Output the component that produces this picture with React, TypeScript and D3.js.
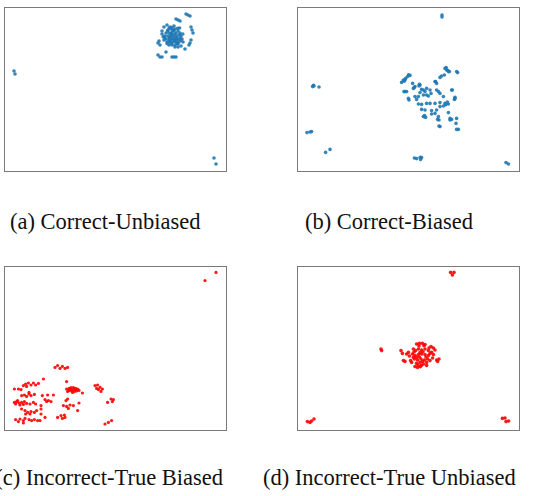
import * as d3 from "d3";

// embedding coordinates (x right, y up)
const pointsA: [number, number][] = [
  [82, 71], [83.5, 71.5], [85.5, 71.5], [87, 70.5], [81, 69.5], [82.5, 69.5], [84, 70], [86, 69.5], [88, 69.5],
  [80.5, 68], [82, 68], [83.5, 68], [85, 68], [86.5, 68], [88.5, 68], [81, 66.5], [82.5, 66.5], [84, 66.5],
  [85.5, 66.5], [87, 66.5], [89, 66.5], [81.5, 65], [83, 65], [84.5, 65], [86, 65], [87.5, 65], [82.5, 63.5],
  [84, 63.5], [85.5, 63.5], [87, 64], [83, 72.5], [85, 73], [80, 66], [89.5, 65], [83.5, 69], [85.5, 69],
  [84.5, 67], [82.5, 65.5], [86.5, 66], [88, 67], [84, 68.8], [86.2, 67.2], [82.8, 67.4], [85, 70.6],
  [81.8, 70.6], [84.6, 71], [86.8, 71.8], [80.2, 67.2], [87.6, 68.6], [83.2, 66], [85.2, 65.6], [86.6, 64.2],
  [81.6, 64.2], [83.6, 64.4], [88.4, 65.8], [84, 72.2], [82.6, 72], [87.8, 72], [89.4, 69], [79.6, 67.6],
  [91, 79], [92, 78.5], [93, 78], [86, 76.5], [87, 76], [88, 75.5], [80, 72.5], [81.5, 73.5], [79, 70.5],
  [79, 69], [93.5, 72.5], [94, 71], [94.5, 69.5], [93.5, 66], [93, 64.5], [92.5, 63.5], [77.5, 65.5],
  [77, 64.5], [78, 63.5], [85.5, 62.5], [87, 62.5], [88.5, 63], [90.5, 61.5], [81, 60], [77, 58.5],
  [78, 57.5], [79, 57.5], [84, 57.5], [85, 57.5], [86, 57.5],
  [5, 50.5], [5.5, 49], [105, 7], [106, 4],
];

const pointsB: [number, number][] = [
  [72.5, 78.5], [72.5, 77.5],
  [8.5, 43], [7.8, 42.7], [11, 42.5], [8.2, 43.4], [5, 19.7], [6.5, 20], [7.3, 20.2], [14.3, 9.8], [16.5, 11.3],
  [58.7, 7], [59.8, 6.7], [61.8, 6.3], [62.3, 7.2], [61.6, 7.4], [104.5, 4.7], [105.7, 4],
  [53.2, 46], [54.3, 46.8], [55.3, 47.7], [56.5, 48.3], [52.3, 44.8], [54, 46], [55.8, 48.6], [53.6, 45.4],
  [74, 51.8], [74.8, 51], [75.7, 50.2], [76.2, 50.2], [74.6, 52.2], [75.4, 50.8], [79.8, 50.2], [80.3, 49.7],
  [72.3, 48], [71.5, 47.3], [73.7, 48.5], [69, 45.2], [69.8, 44.3], [69.3, 45.2],
  [58.2, 41.8], [59, 42.7], [57.8, 44.3], [61.5, 43.5], [61, 43], [54, 40.2], [54.8, 40.2], [53.5, 40.2],
  [62.3, 41.3], [64.8, 41.8], [66.5, 41], [67, 39.3], [65.7, 38], [63.2, 38.5], [61.5, 39.7], [64, 40.2],
  [63.2, 41], [64.8, 38.5], [60.7, 37.7], [58.6, 42.2], [61.2, 43.9],
  [69.8, 41], [70.7, 40.2], [71.5, 39.3], [77.3, 41], [77.7, 41],
  [55.7, 36.8], [56, 36], [59, 37.7], [59.8, 36.3], [73.2, 37.7], [79, 37.3], [78.7, 36.3], [79, 36.8],
  [60.7, 34], [62.3, 33.8], [64.8, 34.3], [66.5, 34.3], [69, 34.3], [71.5, 34.7], [74, 34.3], [75.7, 34],
  [74.4, 33.6], [75.2, 35],
  [62.3, 31.3], [64, 31], [67.3, 30.7], [69.8, 31], [71.5, 32.7], [73.2, 33],
  [63.2, 27.7], [64.3, 27.3], [63.8, 28.2], [67.3, 29], [69, 29.3], [70.7, 27.7], [75.7, 29.7],
  [70.3, 26.3], [71, 26], [76.5, 26], [77.3, 26.3], [79.8, 26.8], [76.5, 26.8],
  [71.5, 22.7], [71, 23], [79.5, 24.3], [79.8, 21.3], [80.7, 21.3],
];

const pointsC: [number, number][] = [
  [106, 79.3], [100.5, 75.2],
  [25.5, 31.8], [26.8, 32.7], [28, 31.3], [29.2, 32.3], [30.5, 31.3], [31.8, 31.8],
  [19.7, 26], [31.3, 24.7],
  [9.7, 22.7], [10.8, 23.5], [12.2, 24], [13.5, 23], [14.7, 24], [15.8, 23], [17.2, 23.8], [11.3, 22.3],
  [5.2, 21], [7.2, 21], [8.5, 20.7],
  [31.3, 21], [32.5, 21.3], [33.5, 21.7], [34.7, 21.7], [35.8, 21.3], [36.8, 21], [37.5, 20.3], [36.3, 20],
  [35.2, 19.8], [33.8, 20], [32.5, 20.2], [31.8, 19.8], [33.8, 20.7], [35, 20.8], [33, 20.7], [35.8, 20.5],
  [34.3, 19.3], [39.2, 19],
  [45.5, 22.7], [46.8, 23], [48, 21.8], [49.2, 21], [47.2, 20.7], [46.3, 21.3], [48.5, 19.8],
  [53.5, 16], [54.2, 14.7], [51.8, 14.3], [54.7, 15.7],
  [50.5, 3.5], [52.2, 4.3], [53.8, 5.2],
  [8.8, 17.7], [10.2, 18], [11.3, 17.3], [12.5, 18.5], [13.5, 17.7], [15.2, 18.3], [12.5, 19.3],
  [19.2, 17.7], [21.8, 18], [24.7, 18],
  [20.5, 15.7], [22.2, 15.2], [23.5, 14.7], [21.3, 14.7], [31, 15.2], [31.8, 16],
  [5.2, 14.3], [6.3, 14.7], [7.5, 14], [8.8, 14.3], [10.2, 14.7], [5.8, 13.5], [8, 13], [9.7, 13.3],
  [6.8, 15.2], [11.3, 13.8], [13, 13.5], [14.7, 14.3], [15.8, 13.5],
  [18.5, 12.7], [18.5, 11],
  [29.7, 12.7], [31.3, 12.3], [33, 13], [34.7, 12.7], [32.2, 11.3], [37.5, 14], [36.8, 10.2],
  [8.8, 11], [10.5, 10.2], [11.8, 9.3], [13.5, 9.7], [15.2, 9.3], [16.3, 10.2], [13, 8.5], [10.8, 8.5],
  [18.5, 8.5], [20.5, 6.8],
  [26.8, 6.8], [28.5, 7.7], [30.2, 8], [29.2, 6.3], [30.5, 6.8],
  [5.8, 5.7], [8, 6], [9.7, 5.2], [10.5, 6.3], [12.5, 5.7], [13.8, 5.2], [15.2, 5.7], [16.8, 5.2], [18, 5.2],
  [7.2, 4.7], [9.7, 4],
];

const pointsD: [number, number][] = [
  [76.8, 79.3], [78.5, 79.3], [77.7, 78],
  [5.2, 4.7], [6.5, 4.3], [7.3, 5], [8.5, 6],
  [102.7, 6.3], [104, 6.5], [104.5, 4.7], [105.8, 5],
  [42, 41], [42.3, 40.2],
  [52, 40.2], [52.7, 38.8], [53.2, 35.2], [54, 34.8], [54.8, 38.5], [55.7, 39.3],
  [59.8, 43.5], [61.2, 43.8], [62.7, 43.8], [64, 43.2], [67, 42.2], [68.2, 41.5], [69, 40.5],
  [58.2, 41], [59.3, 40.2], [60.7, 41], [62.3, 40.5], [64, 41], [65.7, 40.2], [67.3, 39.3], [68.2, 38.2],
  [57.7, 38.5], [59, 37.7], [60.7, 38.2], [62.3, 38.5], [64, 38.2], [65.7, 37.7],
  [58.7, 36], [60.3, 35.5], [62, 36], [63.7, 35.5], [65.3, 36], [66.5, 35.2],
  [59.8, 33.8], [61.5, 34.3], [63.2, 33.5], [64.8, 34.3],
  [59, 32.2], [60.3, 31.8], [61.7, 32.2],
  [69.8, 35.5], [71, 36], [70.3, 34.8], [57.3, 34.3], [58.2, 36.8],
  [61, 42.5], [63.5, 42.6], [66, 41.5], [58.5, 39.5], [61.5, 39.2], [63, 39.6], [66.5, 38.8],
  [59.8, 36.8], [61.2, 37], [64.5, 37], [62.8, 34.8], [60.5, 33], [62.2, 32.8], [56.2, 37.5],
  [56.8, 35.2], [67.8, 36.5], [64.8, 32.8],
];

const captions = [
  "(a) Correct-Unbiased",
  "(b) Correct-Biased",
  "(c) Incorrect-True Biased",
  "(d) Incorrect-True Unbiased",
];

const panels = [
  { pts: pointsA, color: "#1f77b4", r: 1.8, x0: 4, y0: 7, cx: 10, cy: 229, anchor: "start" },
  { pts: pointsB, color: "#1f77b4", r: 1.8, x0: 297, y0: 7, cx: 305, cy: 229, anchor: "start" },
  { pts: pointsC, color: "#ff0000", r: 1.6, x0: 4, y0: 266, cx: 223, cy: 484.5, anchor: "end" },
  { pts: pointsD, color: "#ff0000", r: 1.8, x0: 297, y0: 266, cx: 263, cy: 484.5, anchor: "start" },
];

const W = 538;
const H = 496;
const pw = 223;
const ph = 165;

export default function App() {
  const x = d3.scaleLinear().domain([0, 111.5]).range([0, pw]);
  const y = d3.scaleLinear().domain([0, 82.5]).range([ph, 0]);

  return (
    <svg width={W} height={H} style={{ position: "absolute", left: 0, top: 0, background: "#fff" }}>
      {panels.map((p, i) => (
        <g key={i}>
          <g transform={`translate(${p.x0},${p.y0})`}>
            <rect x={0.5} y={0.5} width={pw - 1} height={ph - 1} fill="#fff" stroke="#7a7a7a" strokeWidth={1} />
            {p.pts.map((d, j) => (
              <circle key={j} cx={x(d[0])} cy={y(d[1])} r={p.r} fill={p.color} fillOpacity={0.9} />
            ))}
          </g>
          <text
            x={p.cx}
            y={p.cy}
            textAnchor={p.anchor as any}
            fontFamily="'Liberation Serif', 'Times New Roman', serif"
            fontSize={22.5}
            fill="#111"
          >
            {captions[i]}
          </text>
        </g>
      ))}
    </svg>
  );
}
